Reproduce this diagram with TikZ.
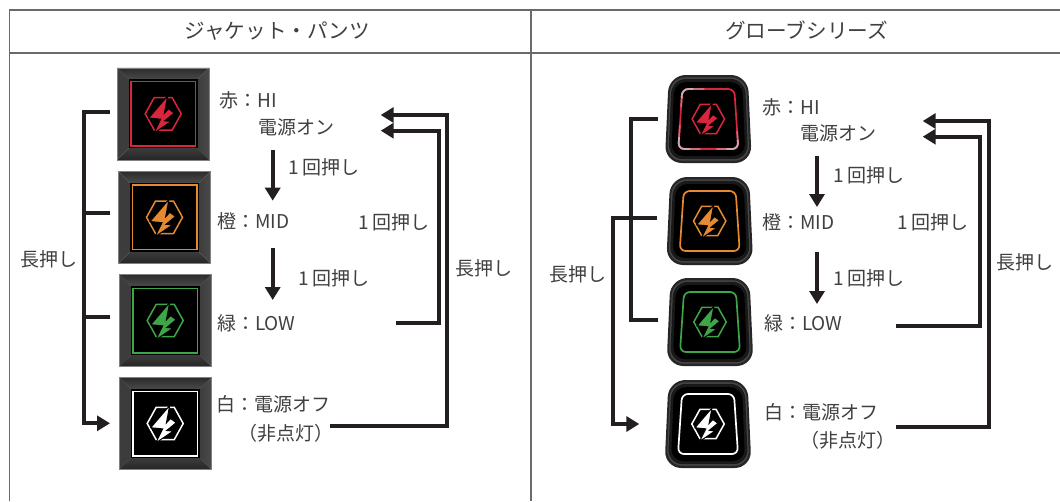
\documentclass[tikz,border=0pt]{standalone}
\usepackage{fontspec}
\setmainfont{Noto Sans CJK JP}
\usetikzlibrary{arrows.meta}
\definecolor{txt}{HTML}{404040}
\definecolor{wirec}{HTML}{231F20}
\definecolor{rule}{HTML}{6A6A6A}
\definecolor{cred}{HTML}{D9263C}
\definecolor{corange}{HTML}{E58A32}
\definecolor{cgreen}{HTML}{3FA648}
\definecolor{cwhite}{HTML}{FFFFFF}
\definecolor{cpale}{HTML}{CFA9AF}
\definecolor{cmid}{HTML}{D76A79}
\definecolor{bevA}{HTML}{2C2C2C}
\definecolor{bevB}{HTML}{4A4A4A}
\definecolor{bevC}{HTML}{3C3C3C}
\definecolor{bevD}{HTML}{262626}
\tikzset{
  x=1pt,y=-1pt,
  lab/.style={anchor=west,inner sep=0pt,text=txt,text height=16.7pt,text depth=2.3pt,font=\fontsize{19}{22}\selectfont},
  head/.style={anchor=center,inner sep=0pt,text=txt,text height=18.1pt,text depth=2.5pt,font=\fontsize{20.6}{24}\selectfont},
  wire/.style={draw=wirec,line width=4pt,miter limit=10},
  arrowed/.style={wire,-{Triangle[length=13pt,width=15pt,fill=wirec]}},
  tablerule/.style={draw=rule,line width=1.6pt},
  btnbox/.style={inner sep=0pt,minimum width=#1,minimum height=#1},
  glow/.style={line width=1.7pt,rounded corners=6pt},
}
% hexagon emblem: centre, scale, colour
\newcommand{\emblem}[4]{%
  \begin{scope}[shift={(#1,#2)},scale=#3]
    \draw[#4,line width=1.5pt,line join=miter] (-18,0)--(-9,-16.2)--(9,-16.2)--(18,0)--(9,16.2)--(-9,16.2)--cycle;
    \path[fill=#4,draw=black,line width=1pt,line join=miter]
      (4.5,-18)--(-14.5,4.2)--(-2.5,5.4)--(-9.5,19.5)--(8,7.6)--(1.5,7)--(11,-0.8)--(5.4,-5)--(1.2,-0.6)--cycle;
  \end{scope}}
% square button of the jacket: name, centre, colour
\newcommand{\jbtn}[4]{%
  \node[btnbox=92pt] (#1) at (#2,#3) {};
  \begin{scope}[shift={(#2,#3)}]
    \shade[top color=bevA,bottom color=bevB] (-46,-46)--(46,-46)--(34,-34)--(-34,-34)--cycle;
    \shade[top color=bevC,bottom color=bevD] (-46,46)--(46,46)--(34,34)--(-34,34)--cycle;
    \shade[left color=bevC,right color=bevC] (-46,-46)--(-34,-34)--(-34,34)--(-46,46)--cycle;
    \shade[left color=bevC,right color=bevB] (46,-46)--(34,-34)--(34,34)--(46,46)--cycle;
    \draw[black!50,line width=.5pt] (-46,-46) rectangle (46,46);
    \fill[black] (-34.5,-34.5) rectangle (34.5,34.5);
    \draw[#4,line width=1.4pt] (-32.3,-32.3) rectangle (32.3,32.3);
  \end{scope}
  \emblem{#2}{#3}{1}{#4}}
% glove button: name, centre, colour
\newcommand{\gbtn}[4]{%
  \node[btnbox=88pt] (#1) at (#2,#3) {};
  \begin{scope}[shift={(#2,#3)}]
    \fill[black!85!white,rounded corners=17pt] (0,-44) -- (39.5,-44) -- (43.5,44) -- (-43.5,44) -- (-39.5,-44) -- cycle;
    \fill[black!72!white,rounded corners=15.5pt] (0,-41.7) -- (37.8,-41.7) -- (41.3,41.7) -- (-41.3,41.7) -- (-37.8,-41.7) -- cycle;
    \fill[black!90!white,rounded corners=14.5pt] (0,-40.2) -- (36.6,-40.2) -- (40,40.2) -- (-40,40.2) -- (-36.6,-40.2) -- cycle;
    \fill[black,rounded corners=12pt] (0,-37) -- (34,-37) -- (37,37) -- (-37,37) -- (-34,-37) -- cycle;
    \draw[#4,glow] (0,-30) -- (26,-30) -- (30,30) -- (-30,30) -- (-26,-30) -- cycle;
  \end{scope}
  \emblem{#2}{#3}{.9}{#4}}
\begin{document}
\begin{tikzpicture}
\useasboundingbox (0,0) rectangle (1060,501);
\fill[white] (0,0) rectangle (1060,501);
% table
\coordinate (tTL) at (9.5,10); \coordinate (tBL) at (9.5,501);
\coordinate (tTR) at (1060,10); \coordinate (tHL) at (9.5,53); \coordinate (tHR) at (1060,53);
\coordinate (tTM) at (531,10); \coordinate (tBM) at (531,501);
\draw[tablerule] (tBL)--(tTL)--(tTR);
\draw[tablerule] (tHL)--(tHR);
\draw[tablerule] (tTM)--(tBM);
\node[head] (hJ) at (277.5,31) {ジャケット・パンツ};
\node[head] (hG) at (806.5,31) {グローブシリーズ};
% jacket buttons
\jbtn{j1}{163.2}{113.8}{cred}
\jbtn{j2}{164.5}{217.3}{corange}
\jbtn{j3}{165.2}{320.5}{cgreen}
\jbtn{j4}{165.2}{423.5}{cwhite}
% glove buttons
\gbtn{g1}{708.3}{119}{cred}
\begin{scope}[shift={(708.3,119)}]
  \draw[cmid,glow] (-8,30) -- (-30,30) -- (-28.4,6);
  \draw[cmid,glow] (8,30) -- (30,30) -- (28.8,12);
  \draw[cmid,glow] (-27.2,-12) -- (-26,-30) -- (-4,-30);
  \draw[cpale,glow] (-18,30) -- (-30,30) -- (-29.2,18);
  \draw[cpale,glow] (18,30) -- (30,30) -- (29.4,21);
  \draw[cpale,glow] (-26.6,-21) -- (-26,-30) -- (-15,-30);
\end{scope}
\gbtn{g2}{709.7}{221}{corange}
\gbtn{g3}{710}{322}{cgreen}
\gbtn{g4}{708}{424}{cwhite}
% jacket labels
\node[lab] (jr1) at (219,100) {赤：HI};
\node[lab] (jr2) at (258,127) {電源オン};
\node[lab] (jo) at (217,221) {橙：MID};
\node[lab] (jg) at (217,323) {緑：LOW};
\node[lab] (jw1) at (216,404) {白：電源オフ};
\node[lab] (jw2) at (238,433) {（非点灯）};
\node[lab] (jp1) at (288,167) {1\kern4pt 回押し};
\node[lab] (jp2) at (298,278) {1\kern4pt 回押し};
\node[lab] (jp3) at (358,222) {1\kern4pt 回押し};
\node[lab] (jlL) at (20,259) {長押し};
\node[lab] (jlR) at (455,268) {長押し};
% glove labels
\node[lab] (gr1) at (762,107) {赤：HI};
\node[lab] (gr2) at (800,133) {電源オン};
\node[lab] (go) at (762,222) {橙：MID};
\node[lab] (gg) at (764,323) {緑：LOW};
\node[lab] (gw1) at (764,412) {白：電源オフ};
\node[lab] (gw2) at (800,440) {（非点灯）};
\node[lab] (gp1) at (833,175) {1\kern4pt 回押し};
\node[lab] (gp2) at (833,278) {1\kern4pt 回押し};
\node[lab] (gp3) at (897,222) {1\kern4pt 回押し};
\node[lab] (glL) at (549,274) {長押し};
\node[lab] (glR) at (996,262) {長押し};
% jacket connectors
\coordinate (a1) at (110,112); \coordinate (a2) at (84,112); \coordinate (a3) at (84,423.3); \coordinate (a4) at (110,423.3);
\draw[arrowed] (a1)--(a2)--(a3)--(a4);
\coordinate (a5) at (110,213); \coordinate (a6) at (84,213); \draw[wire] (a5)--(a6);
\coordinate (a7) at (110,316.7); \coordinate (a8) at (84,316.7); \draw[wire] (a7)--(a8);
\coordinate (b1) at (272.7,150); \coordinate (b2) at (272.7,200.7); \draw[arrowed] (b1)--(b2);
\coordinate (b3) at (272.7,248); \coordinate (b4) at (272.7,300); \draw[arrowed] (b3)--(b4);
\coordinate (c1) at (396,322.7); \coordinate (c2) at (439,322.7); \coordinate (c3) at (439,130.7); \coordinate (c4) at (380.7,130.7);
\draw[arrowed] (c1)--(c2)--(c3)--(c4);
\coordinate (d1) at (330,426); \coordinate (d2) at (447.3,426); \coordinate (d3) at (447.3,115); \coordinate (d4) at (380.7,115);
\draw[arrowed] (d1)--(d2)--(d3)--(d4);
% glove connectors
\coordinate (e1) at (658,119); \coordinate (e2) at (630.7,119); \coordinate (e3) at (630.7,320); \coordinate (e4) at (658,320);
\draw[wire] (e1)--(e2)--(e3)--(e4);
\coordinate (f1) at (657,217.7); \coordinate (f2) at (613.3,217.7); \coordinate (f3) at (613.3,424); \coordinate (f4) at (639.3,424);
\draw[arrowed] (f1)--(f2)--(f3)--(f4);
\coordinate (k1) at (817,156); \coordinate (k2) at (817,207); \draw[arrowed] (k1)--(k2);
\coordinate (k3) at (817,252); \coordinate (k4) at (817,304); \draw[arrowed] (k3)--(k4);
\coordinate (m1) at (896,325.7); \coordinate (m2) at (980,325.7); \coordinate (m3) at (980,136.7); \coordinate (m4) at (922.7,136.7);
\draw[arrowed] (m1)--(m2)--(m3)--(m4);
\coordinate (n1) at (896,426.7); \coordinate (n2) at (989,426.7); \coordinate (n3) at (989,121); \coordinate (n4) at (922.7,121);
\draw[arrowed] (n1)--(n2)--(n3)--(n4);
\end{tikzpicture}
\end{document}
